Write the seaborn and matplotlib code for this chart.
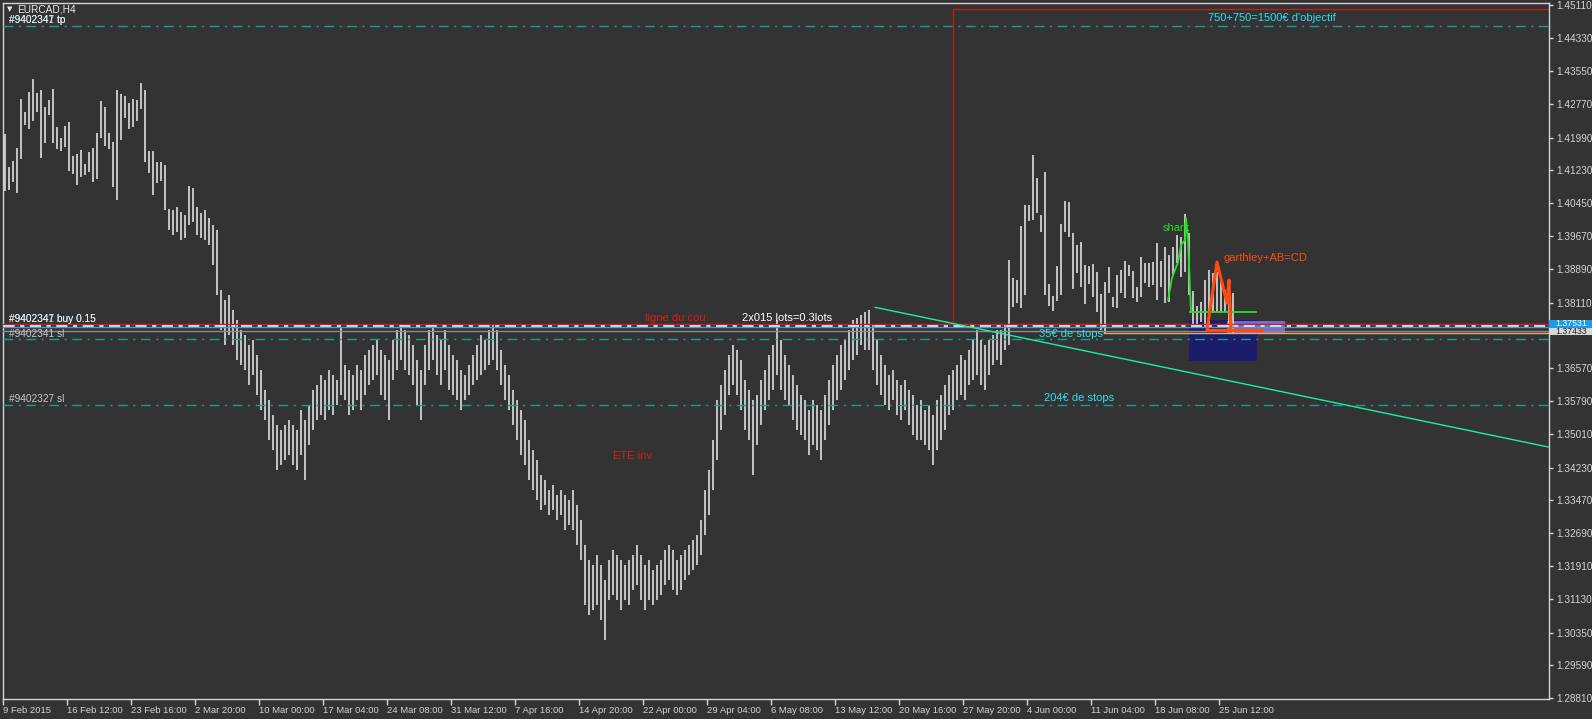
import matplotlib
matplotlib.use("Agg")
import matplotlib.pyplot as plt
import matplotlib.transforms as mtransforms
from matplotlib.patches import Rectangle
import seaborn as sns

# ── EURCAD H4 bars (one entry per 8 hours), high / low ──────────────────
highs = [
    1.4208, 1.4130, 1.4144, 1.4175, 1.4290, 1.4259, 1.4306, 1.4337, 1.4304, 1.4311,
    1.4271, 1.4288, 1.4313, 1.4224, 1.4198, 1.4226, 1.4236, 1.4156, 1.4161, 1.4170,
    1.4137, 1.4165, 1.4175, 1.4210, 1.4285, 1.4271, 1.4210, 1.4189, 1.4311, 1.4302,
    1.4297, 1.4281, 1.4290, 1.4288, 1.4328, 1.4311, 1.4168, 1.4168, 1.4142, 1.4142,
    1.4135, 1.4031, 1.4029, 1.4036, 1.4024, 1.4017, 1.4085, 1.4081, 1.4036, 1.4022,
    1.4029, 1.4010, 1.3994, 1.3981, 1.3841, 1.3817, 1.3829, 1.3794, 1.3770, 1.3747,
    1.3735, 1.3711, 1.3723, 1.3688, 1.3653, 1.3605, 1.3582, 1.3547, 1.3523, 1.3511,
    1.3523, 1.3535, 1.3523, 1.3511, 1.3558, 1.3535, 1.3570, 1.3605, 1.3617, 1.3641,
    1.3629, 1.3653, 1.3641, 1.3629, 1.3751, 1.3664, 1.3653, 1.3641, 1.3664, 1.3653,
    1.3688, 1.3700, 1.3711, 1.3723, 1.3700, 1.3688, 1.3676, 1.3723, 1.3747, 1.3758,
    1.3747, 1.3735, 1.3711, 1.3676, 1.3653, 1.3711, 1.3747, 1.3758, 1.3735, 1.3723,
    1.3747, 1.3711, 1.3688, 1.3676, 1.3653, 1.3641, 1.3664, 1.3688, 1.3711, 1.3735,
    1.3723, 1.3747, 1.3758, 1.3747, 1.3700, 1.3664, 1.3641, 1.3605, 1.3582, 1.3558,
    1.3535, 1.3488, 1.3464, 1.3441, 1.3406, 1.3394, 1.3370, 1.3382, 1.3359, 1.3370,
    1.3359, 1.3347, 1.3370, 1.3335, 1.3300, 1.3241, 1.3206, 1.3194, 1.3217, 1.3194,
    1.3159, 1.3206, 1.3229, 1.3217, 1.3206, 1.3194, 1.3206, 1.3217, 1.3241, 1.3217,
    1.3194, 1.3206, 1.3182, 1.3194, 1.3206, 1.3229, 1.3241, 1.3229, 1.3206, 1.3217,
    1.3229, 1.3241, 1.3253, 1.3264, 1.3300, 1.3370, 1.3417, 1.3488, 1.3582, 1.3617,
    1.3653, 1.3688, 1.3711, 1.3700, 1.3676, 1.3629, 1.3605, 1.3582, 1.3594, 1.3629,
    1.3653, 1.3688, 1.3711, 1.3770, 1.3723, 1.3688, 1.3664, 1.3641, 1.3617, 1.3594,
    1.3582, 1.3558, 1.3582, 1.3570, 1.3558, 1.3594, 1.3629, 1.3664, 1.3688, 1.3711,
    1.3723, 1.3747, 1.3770, 1.3775, 1.3782, 1.3789, 1.3794, 1.3758, 1.3723, 1.3688,
    1.3664, 1.3641, 1.3653, 1.3629, 1.3617, 1.3629, 1.3605, 1.3594, 1.3570, 1.3582,
    1.3558, 1.3570, 1.3547, 1.3582, 1.3594, 1.3617, 1.3641, 1.3653, 1.3664, 1.3688,
    1.3676, 1.3700, 1.3723, 1.3747, 1.3723, 1.3711, 1.3723, 1.3735, 1.3747, 1.3747,
    1.3758, 1.3911, 1.3869, 1.3864, 1.3991, 1.4041, 1.4041, 1.4158, 1.4104, 1.4017,
    1.4118, 1.3855, 1.3827, 1.3897, 1.3996, 1.4050, 1.4048, 1.3975, 1.3947, 1.3954,
    1.3900, 1.3897, 1.3902, 1.3883, 1.3831, 1.3860, 1.3895, 1.3824, 1.3876, 1.3888,
    1.3909, 1.3900, 1.3886, 1.3848, 1.3918, 1.3904, 1.3904, 1.3907, 1.3951, 1.3909,
    1.3942, 1.3923, 1.3942, 1.3970, 1.3965, 1.4019, 1.3975, 1.3838, 1.3803, 1.3812,
    1.3864, 1.3888, 1.3881, 1.3883, 1.3869, 1.3841, 1.3864, 1.3834,
]
lows = [
    1.4074, 1.4076, 1.4095, 1.4069, 1.4149, 1.4229, 1.4219, 1.4238, 1.4259, 1.4151,
    1.4186, 1.4252, 1.4186, 1.4172, 1.4168, 1.4177, 1.4121, 1.4114, 1.4088, 1.4107,
    1.4111, 1.4118, 1.4095, 1.4102, 1.4198, 1.4179, 1.4172, 1.4083, 1.4052, 1.4193,
    1.4245, 1.4219, 1.4224, 1.4238, 1.4266, 1.4142, 1.4116, 1.4064, 1.4092, 1.4097,
    1.4029, 1.3981, 1.3970, 1.3977, 1.3958, 1.3963, 1.3994, 1.4000, 1.3970, 1.3963,
    1.3958, 1.3947, 1.3900, 1.3829, 1.3747, 1.3711, 1.3735, 1.3711, 1.3676, 1.3664,
    1.3653, 1.3617, 1.3641, 1.3594, 1.3559, 1.3535, 1.3488, 1.3464, 1.3417, 1.3429,
    1.3441, 1.3453, 1.3429, 1.3417, 1.3453, 1.3394, 1.3476, 1.3511, 1.3535, 1.3547,
    1.3535, 1.3559, 1.3547, 1.3570, 1.3594, 1.3582, 1.3547, 1.3559, 1.3582, 1.3559,
    1.3594, 1.3617, 1.3629, 1.3641, 1.3594, 1.3582, 1.3535, 1.3629, 1.3653, 1.3676,
    1.3653, 1.3641, 1.3617, 1.3570, 1.3535, 1.3617, 1.3653, 1.3676, 1.3641, 1.3617,
    1.3653, 1.3605, 1.3594, 1.3582, 1.3559, 1.3582, 1.3594, 1.3617, 1.3629, 1.3641,
    1.3653, 1.3664, 1.3676, 1.3653, 1.3617, 1.3582, 1.3559, 1.3523, 1.3488, 1.3453,
    1.3429, 1.3394, 1.3370, 1.3347, 1.3323, 1.3335, 1.3311, 1.3323, 1.3300, 1.3311,
    1.3276, 1.3288, 1.3276, 1.3241, 1.3206, 1.3100, 1.3076, 1.3088, 1.3100, 1.3065,
    1.3018, 1.3112, 1.3123, 1.3112, 1.3088, 1.3112, 1.3100, 1.3135, 1.3147, 1.3112,
    1.3088, 1.3112, 1.3100, 1.3112, 1.3123, 1.3147, 1.3159, 1.3135, 1.3123, 1.3135,
    1.3159, 1.3170, 1.3182, 1.3194, 1.3217, 1.3264, 1.3311, 1.3370, 1.3441, 1.3511,
    1.3547, 1.3594, 1.3617, 1.3594, 1.3559, 1.3511, 1.3488, 1.3405, 1.3476, 1.3523,
    1.3559, 1.3582, 1.3605, 1.3641, 1.3605, 1.3582, 1.3570, 1.3535, 1.3511, 1.3500,
    1.3488, 1.3453, 1.3476, 1.3464, 1.3441, 1.3488, 1.3523, 1.3559, 1.3582, 1.3605,
    1.3629, 1.3653, 1.3676, 1.3688, 1.3711, 1.3700, 1.3700, 1.3653, 1.3617, 1.3594,
    1.3570, 1.3559, 1.3582, 1.3547, 1.3535, 1.3559, 1.3523, 1.3500, 1.3488, 1.3488,
    1.3476, 1.3464, 1.3429, 1.3464, 1.3488, 1.3511, 1.3547, 1.3559, 1.3582, 1.3594,
    1.3582, 1.3617, 1.3629, 1.3641, 1.3617, 1.3605, 1.3641, 1.3664, 1.3676, 1.3664,
    1.3700, 1.3711, 1.3801, 1.3810, 1.3798, 1.3829, 1.4003, 1.4005, 1.4022, 1.3977,
    1.3829, 1.3803, 1.3791, 1.3815, 1.3829, 1.3977, 1.3965, 1.3843, 1.3881, 1.3848,
    1.3808, 1.3855, 1.3824, 1.3789, 1.3747, 1.3740, 1.3834, 1.3801, 1.3798, 1.3834,
    1.3822, 1.3874, 1.3822, 1.3812, 1.3824, 1.3857, 1.3848, 1.3853, 1.3817, 1.3848,
    1.3810, 1.3812, 1.3876, 1.3904, 1.3871, 1.3883, 1.3829, 1.3758, 1.3751, 1.3765,
    1.3754, 1.3751, 1.3787, 1.3789, 1.3787, 1.3789, 1.3754, 1.3740,
]

date_labels = [
    "9 Feb 2015", "16 Feb 12:00", "23 Feb 16:00", "2 Mar 20:00", "10 Mar 00:00",
    "17 Mar 04:00", "24 Mar 08:00", "31 Mar 12:00", "7 Apr 16:00", "14 Apr 20:00",
    "22 Apr 00:00", "29 Apr 04:00", "6 May 08:00", "13 May 12:00", "20 May 16:00",
    "27 May 20:00", "4 Jun 00:00", "11 Jun 04:00", "18 Jun 08:00", "25 Jun 12:00",
]
bars_per_label = 16

price_ticks = [
    1.45110, 1.44330, 1.43550, 1.42770, 1.41990, 1.41230, 1.40450, 1.39670,
    1.38890, 1.38110, 1.36570, 1.35790, 1.35010, 1.34230, 1.33470, 1.32690,
    1.31910, 1.31130, 1.30350, 1.29590, 1.28810,
]

# horizontal levels (orders, neckline, bid/ask)
neckline = 1.37611
order_open = 1.37564
ask_price = 1.37531
bid_price = 1.37433
stop_ray = 1.37385
sl_9402341 = 1.37244
sl_9402327 = 1.35698
tp_level = 1.44616
target_top = 1.45020

# drawn patterns (bar index, price)
shark_x = [290.75, 291.75, 293.25, 294.0, 295.0, 295.25, 295.75, 296.25, 296.5]
shark_y = [1.3817, 1.3869, 1.3906, 1.3946, 1.3958, 1.4010, 1.3958, 1.3845, 1.3789]
gartley_x = [300.5, 303.0, 305.5, 306.0, 306.5]
gartley_y = [1.3746, 1.3906, 1.3810, 1.3864, 1.3746]
trend_x = [217.5, 386.0]
trend_y = [1.3800, 1.3471]

BG = "#333333"
FG = "#d4d4d4"
TEAL = "#1c9a9a"
CYAN = "#2fe0ef"


def main():
    sns.set_theme(style="dark", rc={
        "axes.facecolor": BG, "figure.facecolor": BG,
        "axes.edgecolor": FG, "xtick.color": FG, "ytick.color": FG,
    })
    plt.rcParams["font.family"] = ["Liberation Sans", "DejaVu Sans"]

    W, H = 1592, 719
    fig = plt.figure(figsize=(W / 100, H / 100), dpi=100)
    ax = fig.add_axes([2.5 / W, 1 - 698.5 / H, 1546.5 / W, 696 / H])
    ax.set_xlim(-0.625, 386)
    ax.set_ylim(1.28798, 1.45169)

    for s in ax.spines.values():
        s.set_color(FG)
        s.set_linewidth(1.0)

    # ── background rectangles ────────────────────────────────────────────
    ax.add_patch(Rectangle((237, neckline), 300, target_top - neckline,
                           fill=False, ec="#d01515", lw=0.9, zorder=1))
    ax.add_patch(Rectangle((296, 1.3674), 17, 1.3770 - 1.3674,
                           fc="#1c1c6c", ec="none", zorder=1))
    ax.add_patch(Rectangle((305.5, 1.3739), 14.5, 1.3767 - 1.3739,
                           fc="#8c7cf4", ec="none", alpha=0.8, zorder=1.5))

    # ── price bars ───────────────────────────────────────────────────────
    idx = list(range(len(highs)))
    ax.vlines(idx, lows, highs, color="#d6d6d6", lw=1.25, zorder=2)

    # ── horizontal levels ────────────────────────────────────────────────
    ax.axhline(neckline, color="#e01818", lw=1.0, zorder=3)
    ax.axhline(order_open, color="#e6e6e6", lw=2.0, ls=(0, (4, 2, 1.5, 2)), zorder=3)
    ax.axhline(ask_price, color="#3d9be0", lw=1.0, zorder=3)
    ax.axhline(bid_price, color="#8a8a8a", lw=1.0, zorder=3)
    ax.hlines(stop_ray, 274.5, 386, color="#f0a870", lw=1.0, zorder=3)
    for lvl in (sl_9402341, sl_9402327, tp_level):
        ax.axhline(lvl, color=TEAL, lw=1.0, ls=(0, (7, 4, 1.5, 4)), zorder=3)

    # ── pattern drawings ─────────────────────────────────────────────────
    sns.lineplot(x=trend_x, y=trend_y, sort=False, estimator=None,
                 color="#19f0a0", lw=1.0, ax=ax, zorder=4)
    sns.lineplot(x=shark_x, y=shark_y, sort=False, estimator=None,
                 color="#22e022", lw=1.3, ax=ax, zorder=4)
    ax.hlines(1.3789, 296, 313, color="#22e022", lw=1.3, zorder=4)
    sns.lineplot(x=gartley_x, y=gartley_y, sort=False, estimator=None,
                 color="#ff4a10", lw=2.2, ax=ax, zorder=4)
    ax.hlines(1.3746, 300.5, 314.5, color="#ff4a10", lw=2.2, zorder=4)

    # ── text annotations ─────────────────────────────────────────────────
    tkw = dict(fontsize=8, va="center", zorder=6)
    ax.text(316.75, 1.44804, "750+750=1500€ d'objectif", color=CYAN, ha="center", **tkw)
    ax.text(167.5, 1.37745, "ligne du cou", color="#e01818", ha="center", **tkw)
    ax.text(195.5, 1.37757, "2x015 lots=0.3lots", color="#ffffff", ha="center", **tkw)
    ax.text(266.5, 1.37369, "35€ de stops", color=CYAN, ha="center", **tkw)
    ax.text(268.5, 1.35863, "204€ de stops", color=CYAN, ha="center", **tkw)
    ax.text(157, 1.34498, "ETE inv", color="#e01818", ha="center", **tkw)
    ax.text(292.75, 1.39863, "shark", color="#22e022", ha="center", **tkw)
    ax.text(315, 1.39157, "garthley+AB=CD", color="#ff4a10", ha="center", **tkw)

    okw = dict(fontsize=7.3, va="center", ha="left", zorder=6)
    ax.text(1, 1.37722, "#9402341 buy 0.15", color="#9fc8e8", **okw)
    ax.text(1, 1.37722, "#9402347 buy 0.15", color="#f0f0f0", **okw)
    ax.text(1, 1.37380, "#9402341 sl", color="#c8c8c8", **okw)
    ax.text(1, 1.35839, "#9402327 sl", color="#c8c8c8", **okw)
    ax.text(1, 1.44757, "#9402341 tp", color="#9fc8e8", **okw)
    ax.text(1, 1.44757, "#9402347 tp", color="#f0f0f0", **okw)

    fig.text(9.5 / W, 1 - 9 / H, "▼", color="#f0f0f0", fontsize=5,
             ha="center", va="center", family="DejaVu Sans")
    fig.text(17 / W, 1 - 9 / H, "EURCAD,H4", color="#e8e8e8", fontsize=7.3, va="center")

    # ── axes: prices on the right, dates below ───────────────────────────
    ax.yaxis.tick_right()
    ax.set_yticks(price_ticks)
    ax.set_yticklabels([f"{p:.5f}" for p in price_ticks])
    ax.tick_params(axis="y", which="major", direction="out", length=3, width=1,
                   pad=2.2, labelsize=7.2, colors=FG, right=True, left=False)

    ax.set_xticks([bars_per_label * i - 0.5 for i in range(len(date_labels))])
    ax.set_xticklabels(date_labels, ha="left")
    ax.tick_params(axis="x", which="major", direction="out", length=4, width=1,
                   pad=1.5, labelsize=6.8, colors=FG, bottom=True)
    ax.grid(False)

    # current price boxes on the price scale (ask box sits just above bid box)
    tr = mtransforms.blended_transform_factory(ax.transAxes, ax.transData)
    box_h = 0.00182
    ask_mid = bid_price + box_h
    ax.add_patch(Rectangle((1.0, ask_mid - box_h / 2), 0.03, box_h, transform=tr,
                           fc="#1e9be6", ec="none", clip_on=False, zorder=7))
    ax.text(1.004, ask_mid, f"{ask_price:.5f}", transform=tr, fontsize=6.3,
            color="#ffffff", va="center", ha="left", clip_on=False, zorder=7)
    ax.add_patch(Rectangle((1.0, bid_price - box_h / 2), 0.03, box_h, transform=tr,
                           fc="#d8d8d8", ec="none", clip_on=False, zorder=8))
    ax.text(1.004, bid_price, f"{bid_price:.5f}", transform=tr, fontsize=6.3,
            color="#202020", va="center", ha="left", clip_on=False, zorder=9)

    fig.savefig("out.png", dpi=100, facecolor=BG)


if __name__ == "__main__":
    main()
